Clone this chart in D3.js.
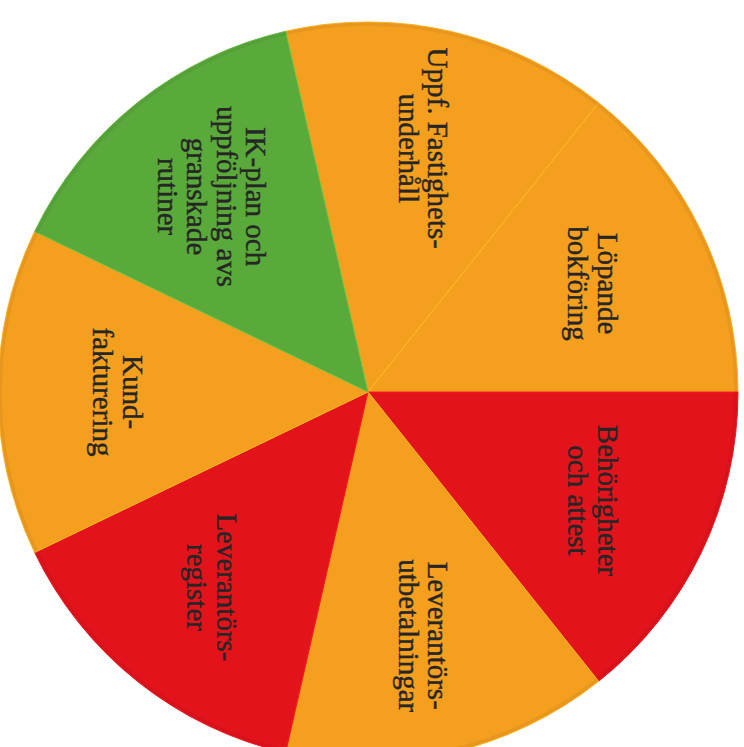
<!DOCTYPE html>
<html lang="sv">
<head>
    <meta charset="UTF-8">
    <title>Pie</title>
    <script src="https://d3js.org/d3.v7.min.js"></script>
    <style>
        body { margin: 0; background: #fff; }
    </style>
</head>
<body>
<script type="text/javascript">
    // slices, clockwise from the top
    var categories = [
        ["Uppf. Fastighets-", "underhåll"],
        ["Löpande", "bokföring"],
        ["Behörigheter", "och attest"],
        ["Leverantörs-", "utbetalningar"],
        ["Leverantörs-", "register"],
        ["Kund-", "fakturering"],
        ["IK-plan och", "uppföljning avs", "granskade", "rutiner"]
    ];
    var values = [1, 1, 1, 1, 1, 1, 1];
    var sliceStatus = ["orange", "orange", "red", "orange", "red", "orange", "green"];

    var statusColor = {orange: "#f59f1f", red: "#e3131c", green: "#5aa93b"};

    var svgWidth = 744;
    var svgHeight = 747;
    var cx = 368;
    var cy = 392;
    var radius = 370;
    var labelRadius = 250;
    var lineHeight = 29.5;

    var data = values.map(function (v, i) {
        return {value: v, lines: categories[i], status: sliceStatus[i]};
    });

    var pie = d3.pie()
        .sort(null)
        .value(function (d) { return d.value; })
        .startAngle(-Math.PI / 14)
        .endAngle(2 * Math.PI - Math.PI / 14);

    var arc = d3.arc().innerRadius(0).outerRadius(radius);
    var labelArc = d3.arc().innerRadius(labelRadius).outerRadius(labelRadius);

    var svg = d3.select("body").append("svg")
        .attr("width", svgWidth)
        .attr("height", svgHeight);

    var g = svg.append("g")
        .attr("transform", "translate(" + cx + "," + cy + ")");

    var arcs = pie(data);

    g.selectAll("path.slice")
        .data(arcs)
        .enter()
        .append("path")
        .attr("class", "slice")
        .attr("d", arc)
        .attr("fill", function (d) { return statusColor[d.data.status]; })
        .attr("stroke", function (d) {
            return d3.color(statusColor[d.data.status]).brighter(0.4);
        })
        .attr("stroke-width", 1);

    // slightly darker rim like the printed original
    g.append("circle")
        .attr("r", radius - 2)
        .attr("fill", "none")
        .attr("stroke", "#000")
        .attr("stroke-opacity", 0.05)
        .attr("stroke-width", 4);

    var labels = g.selectAll("text")
        .data(arcs)
        .enter()
        .append("text")
        .attr("transform", function (d) {
            var c = labelArc.centroid(d);
            return "translate(" + c[0] + "," + c[1] + ") rotate(90)";
        })
        .attr("text-anchor", "middle")
        .attr("font-family", "'Liberation Serif', 'DejaVu Serif', serif")
        .attr("font-size", "29px")
        .attr("fill", "#262626")
        .attr("stroke", "#262626")
        .attr("stroke-width", 0.4);

    labels.each(function (d) {
        var n = d.data.lines.length;
        d3.select(this).selectAll("tspan")
            .data(d.data.lines)
            .enter()
            .append("tspan")
            .attr("x", 0)
            .attr("y", function (t, i) { return (i - (n - 1) / 2) * lineHeight; })
            .attr("dominant-baseline", "central")
            .text(function (t) { return t; });
    });
</script>
</body>
</html>
